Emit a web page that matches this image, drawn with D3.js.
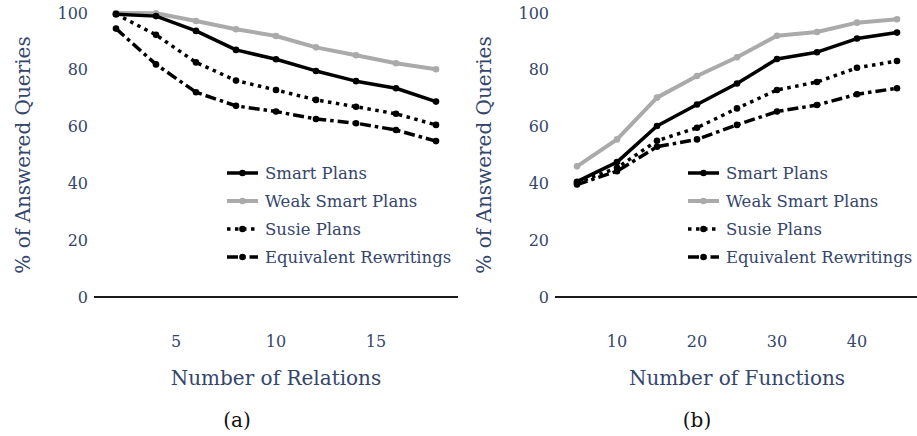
<!DOCTYPE html>
<html>
<head>
<meta charset="utf-8">
<script src="https://cdn.jsdelivr.net/npm/d3@7"></script>
<style>
  body { margin: 0; background: #fff; }
  svg text { fill: #34466b; }
</style>
</head>
<body>
<div id="chart"></div>
<script>
// data
var relations = [2, 4, 6, 8, 10, 12, 14, 16, 18];
var relSmart = [99.6, 98.9, 93.7, 87, 83.7, 79.6, 76, 73.5, 68.8];
var relWeak = [100, 99.9, 97.2, 94.3, 91.9, 87.9, 85.1, 82.3, 80.2];
var relSusie = [99.6, 92.3, 82.6, 76.2, 72.9, 69.4, 67, 64.5, 60.6];
var relEquiv = [94.5, 81.9, 72.1, 67.3, 65.3, 62.7, 61.2, 58.8, 54.9];

var functions = [5, 10, 15, 20, 25, 30, 35, 40, 45];
var funSmart = [40.6, 47.5, 60.2, 67.8, 75.2, 83.8, 86.2, 91, 93.1];
var funWeak = [46, 55.5, 70.2, 77.8, 84.4, 92, 93.3, 96.6, 97.8];
var funSusie = [40.2, 45.5, 55, 59.6, 66.4, 72.9, 75.7, 80.7, 83.1];
var funEquiv = [39.6, 44.3, 52.9, 55.5, 60.6, 65.3, 67.6, 71.4, 73.5];

var seriesNames = ["Smart Plans", "Weak Smart Plans", "Susie Plans", "Equivalent Rewritings"];
var yTicks = [0, 20, 40, 60, 80, 100];
var relTicks = [5, 10, 15];
var funTicks = [10, 20, 30, 40];

// styles per series
var styles = [
    { color: "#000", width: 3.5, dash: null },
    { color: "#aaaaaa", width: 4, dash: null },
    { color: "#000", width: 3.5, dash: "3.5,4.5" },
    { color: "#000", width: 3.5, dash: "11,4,3.5,4" }
];

var fontName = "DejaVu Serif";

var svgWidth = 917;
var svgHeight = 436;

var svg = d3.select("#chart")
    .append("svg")
    .attr("width", svgWidth)
    .attr("height", svgHeight)
    .style("font-family", fontName);

var yScale = d3.scaleLinear().domain([0, 100]).range([297, 13]);

var panels = [
    {
        xs: relations, series: [relSmart, relWeak, relSusie, relEquiv],
        domain: [2, 18], range: [116, 436], ticks: relTicks,
        axisLine: [94, 458], yLabelX: 23, tickRight: 88,
        xTitle: "Number of Relations", xTitleX: 276, caption: "(a)", captionX: 237,
        legendX: 227
    },
    {
        xs: functions, series: [funSmart, funWeak, funSusie, funEquiv],
        domain: [5, 45], range: [577, 897], ticks: funTicks,
        axisLine: [555, 917], yLabelX: 484, tickRight: 549,
        xTitle: "Number of Functions", xTitleX: 737, caption: "(b)", captionX: 697,
        legendX: 688
    }
];

panels.forEach(drawPanel);

function drawPanel(p) {
    var xScale = d3.scaleLinear().domain(p.domain).range(p.range);
    var g = svg.append("g");

    // y tick labels
    g.selectAll(".ytick")
        .data(yTicks)
        .enter()
        .append("text")
        .attr("x", p.tickRight)
        .attr("y", d => yScale(d))
        .attr("dy", "0.35em")
        .attr("text-anchor", "end")
        .attr("font-size", "16px")
        .text(d => d);

    // x tick labels
    g.selectAll(".xtick")
        .data(p.ticks)
        .enter()
        .append("text")
        .attr("x", d => xScale(d))
        .attr("y", 341)
        .attr("dy", "0.35em")
        .attr("text-anchor", "middle")
        .attr("font-size", "16px")
        .text(d => d);

    // baseline
    g.append("line")
        .attr("x1", p.axisLine[0])
        .attr("x2", p.axisLine[1])
        .attr("y1", yScale(0))
        .attr("y2", yScale(0))
        .attr("stroke", "#1a1a1a")
        .attr("stroke-width", 2);

    // axis titles
    g.append("text")
        .attr("transform", `translate(${p.yLabelX}, ${yScale(50)}) rotate(-90)`)
        .attr("text-anchor", "middle")
        .attr("dy", "0.35em")
        .attr("font-size", "20px")
        .text("% of Answered Queries");

    g.append("text")
        .attr("x", p.xTitleX)
        .attr("y", 378)
        .attr("dy", "0.35em")
        .attr("text-anchor", "middle")
        .attr("font-size", "20px")
        .text(p.xTitle);

    g.append("text")
        .attr("x", p.captionX)
        .attr("y", 420)
        .attr("dy", "0.35em")
        .attr("text-anchor", "middle")
        .attr("font-size", "20px")
        .style("fill", "#111")
        .text(p.caption);

    // lines: draw Weak first, then Susie/Equiv, then Smart on top
    var order = [1, 3, 2, 0];
    var line = d3.line()
        .x((d, i) => xScale(p.xs[i]))
        .y(d => yScale(d));

    order.forEach(function (k) {
        var s = styles[k];
        g.append("path")
            .datum(p.series[k])
            .attr("d", line)
            .attr("fill", "none")
            .attr("stroke", s.color)
            .attr("stroke-width", s.width)
            .attr("stroke-dasharray", s.dash)
            .attr("stroke-linejoin", "round");

        g.selectAll(null)
            .data(p.series[k])
            .enter()
            .append("circle")
            .attr("cx", (d, i) => xScale(p.xs[i]))
            .attr("cy", d => yScale(d))
            .attr("r", 3.3)
            .attr("fill", s.color);
    });

    // legend
    var legend = g.append("g")
        .attr("transform", `translate(${p.legendX}, 173)`);

    seriesNames.forEach(function (name, k) {
        var s = styles[k];
        var row = legend.append("g")
            .attr("transform", `translate(0, ${k * 28})`);
        row.append("line")
            .attr("x1", 0)
            .attr("x2", 31)
            .attr("y1", 0)
            .attr("y2", 0)
            .attr("stroke", s.color)
            .attr("stroke-width", s.width)
            .attr("stroke-dasharray", s.dash);
        row.append("circle")
            .attr("cx", 15.5)
            .attr("cy", 0)
            .attr("r", 3.3)
            .attr("fill", s.color);
        row.append("text")
            .attr("x", 38)
            .attr("y", 0)
            .attr("dy", "0.35em")
            .attr("font-size", "16.5px")
            .text(name);
    });
}
</script>
</body>
</html>
